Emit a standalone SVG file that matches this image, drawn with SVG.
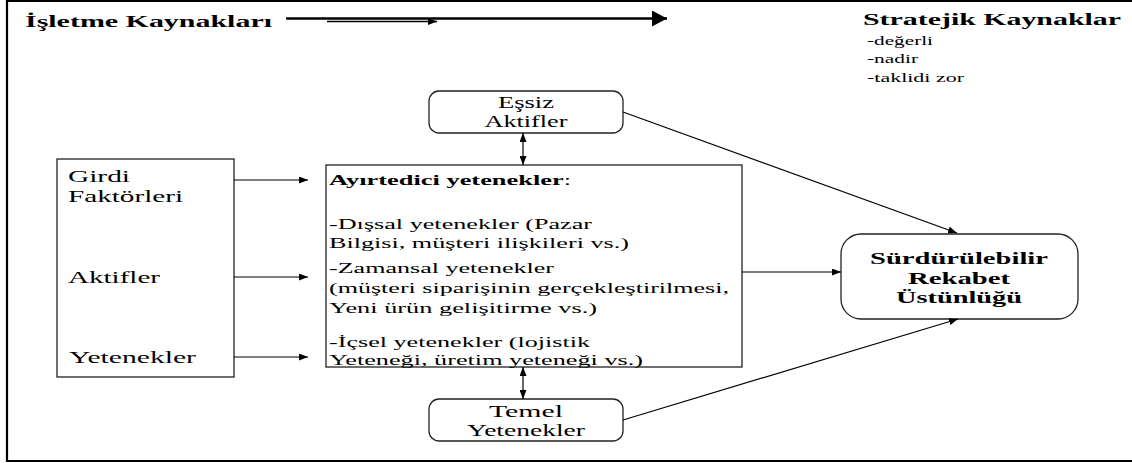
<svg xmlns="http://www.w3.org/2000/svg" width="1132" height="463" viewBox="0 0 1132 463">
<style>
.t{font-family:"Liberation Serif","Times New Roman",serif;fill:#000}
.b{font-weight:bold}
.box{fill:#fff;stroke:#222;stroke-width:1.3}
.ln{stroke:#000;stroke-width:1.2;fill:none}
</style>
<defs>
<marker id="ah" markerUnits="userSpaceOnUse" markerWidth="9" markerHeight="7" refX="9" refY="3.5" orient="auto-start-reverse">
<path d="M0,0 L9,3.5 L0,7 z" fill="#000"/>
</marker>
<marker id="big" markerUnits="userSpaceOnUse" markerWidth="15" markerHeight="16" refX="15" refY="8" orient="auto">
<path d="M0,0 L15,8 L0,16 z" fill="#000"/>
</marker>
</defs>
<rect width="1132" height="463" fill="#fff"/>
<path d="M1132,1 H7 V461 H1132" fill="none" stroke="#000" stroke-width="2.2"/>

<g id="header">
<text class="t b" x="25" y="27" font-size="17" textLength="247" lengthAdjust="spacingAndGlyphs">İşletme Kaynakları</text>
<text class="t b" x="863" y="25" font-size="17" textLength="258" lengthAdjust="spacingAndGlyphs">Stratejik Kaynaklar</text>
<text class="t" x="867" y="45" font-size="13" textLength="66" lengthAdjust="spacingAndGlyphs">-değerli</text>
<text class="t" x="867" y="63" font-size="13" textLength="51" lengthAdjust="spacingAndGlyphs">-nadir</text>
<text class="t" x="867" y="82" font-size="13" textLength="97" lengthAdjust="spacingAndGlyphs">-taklidi zor</text>
</g>

<g id="inputs">
<rect class="box" x="57" y="159" width="177" height="218"/>
<text class="t" x="68" y="182" font-size="17" textLength="62" lengthAdjust="spacingAndGlyphs">Girdi</text>
<text class="t" x="68" y="202" font-size="17" textLength="115" lengthAdjust="spacingAndGlyphs">Faktörleri</text>
<text class="t" x="68" y="283" font-size="17" textLength="92" lengthAdjust="spacingAndGlyphs">Aktifler</text>
<text class="t" x="69" y="363" font-size="17" textLength="127" lengthAdjust="spacingAndGlyphs">Yetenekler</text>
</g>

<g id="ayirtedici">
<rect class="box" x="326" y="165" width="416" height="202"/>
<text class="t" x="329" y="185" font-size="15" textLength="242" lengthAdjust="spacingAndGlyphs"><tspan class="b">Ayırtedici yetenekler</tspan>:</text>
<text class="t" x="329" y="229" font-size="15" textLength="263" lengthAdjust="spacingAndGlyphs">-Dışsal yetenekler (Pazar</text>
<text class="t" x="329" y="248" font-size="15" textLength="300" lengthAdjust="spacingAndGlyphs">Bilgisi, müşteri ilişkileri vs.)</text>
<text class="t" x="329" y="273" font-size="15" textLength="225" lengthAdjust="spacingAndGlyphs">-Zamansal yetenekler</text>
<text class="t" x="329" y="293" font-size="15" textLength="400" lengthAdjust="spacingAndGlyphs">(müşteri siparişinin gerçekleştirilmesi,</text>
<text class="t" x="329" y="313" font-size="15" textLength="268" lengthAdjust="spacingAndGlyphs">Yeni ürün gelişitirme vs.)</text>
<text class="t" x="329" y="347" font-size="15" textLength="261" lengthAdjust="spacingAndGlyphs">-İçsel yetenekler (lojistik</text>
<text class="t" x="329" y="365" font-size="15" textLength="314" lengthAdjust="spacingAndGlyphs">Yeteneği, üretim yeteneği vs.)</text>
</g>

<g id="essiz">
<rect class="box" x="429" y="91" width="194" height="42" rx="10"/>
<text class="t" x="526" y="108" font-size="16" text-anchor="middle" textLength="56" lengthAdjust="spacingAndGlyphs">Eşsiz</text>
<text class="t" x="526" y="127" font-size="16" text-anchor="middle" textLength="83" lengthAdjust="spacingAndGlyphs">Aktifler</text>
</g>

<g id="temel">
<rect class="box" x="429" y="399" width="194" height="42" rx="10"/>
<text class="t" x="526" y="417" font-size="16" text-anchor="middle" textLength="74" lengthAdjust="spacingAndGlyphs">Temel</text>
<text class="t" x="526" y="436" font-size="16" text-anchor="middle" textLength="118" lengthAdjust="spacingAndGlyphs">Yetenekler</text>
</g>

<g id="surdurulebilir">
<rect class="box" x="841" y="234" width="237" height="85" rx="20"/>
<text class="t b" x="959" y="264" font-size="16.5" text-anchor="middle" textLength="178" lengthAdjust="spacingAndGlyphs">Sürdürülebilir</text>
<text class="t b" x="959" y="284" font-size="16.5" text-anchor="middle" textLength="102" lengthAdjust="spacingAndGlyphs">Rekabet</text>
<text class="t b" x="959" y="303" font-size="16.5" text-anchor="middle" textLength="126" lengthAdjust="spacingAndGlyphs">Üstünlüğü</text>
</g>

<g id="connectors">
<line x1="286" y1="18.5" x2="667" y2="18.5" stroke="#000" stroke-width="2.5" marker-end="url(#big)"/>
<line x1="327" y1="21.5" x2="437" y2="21.5" stroke="#000" stroke-width="1.6" marker-end="url(#ah)"/>
<line class="ln" x1="234" y1="180" x2="308" y2="180" marker-end="url(#ah)"/>
<line class="ln" x1="234" y1="277" x2="308" y2="277" marker-end="url(#ah)"/>
<line class="ln" x1="234" y1="357" x2="308" y2="357" marker-end="url(#ah)"/>
<line class="ln" x1="523" y1="133" x2="523" y2="165" marker-start="url(#ah)" marker-end="url(#ah)"/>
<line class="ln" x1="523" y1="367" x2="523" y2="399" marker-start="url(#ah)" marker-end="url(#ah)"/>
<line class="ln" x1="623" y1="112" x2="957" y2="233" marker-end="url(#ah)"/>
<line class="ln" x1="742" y1="272" x2="841" y2="272" marker-end="url(#ah)"/>
<line class="ln" x1="623" y1="420" x2="958" y2="319" marker-end="url(#ah)"/>
</g>
</svg>
